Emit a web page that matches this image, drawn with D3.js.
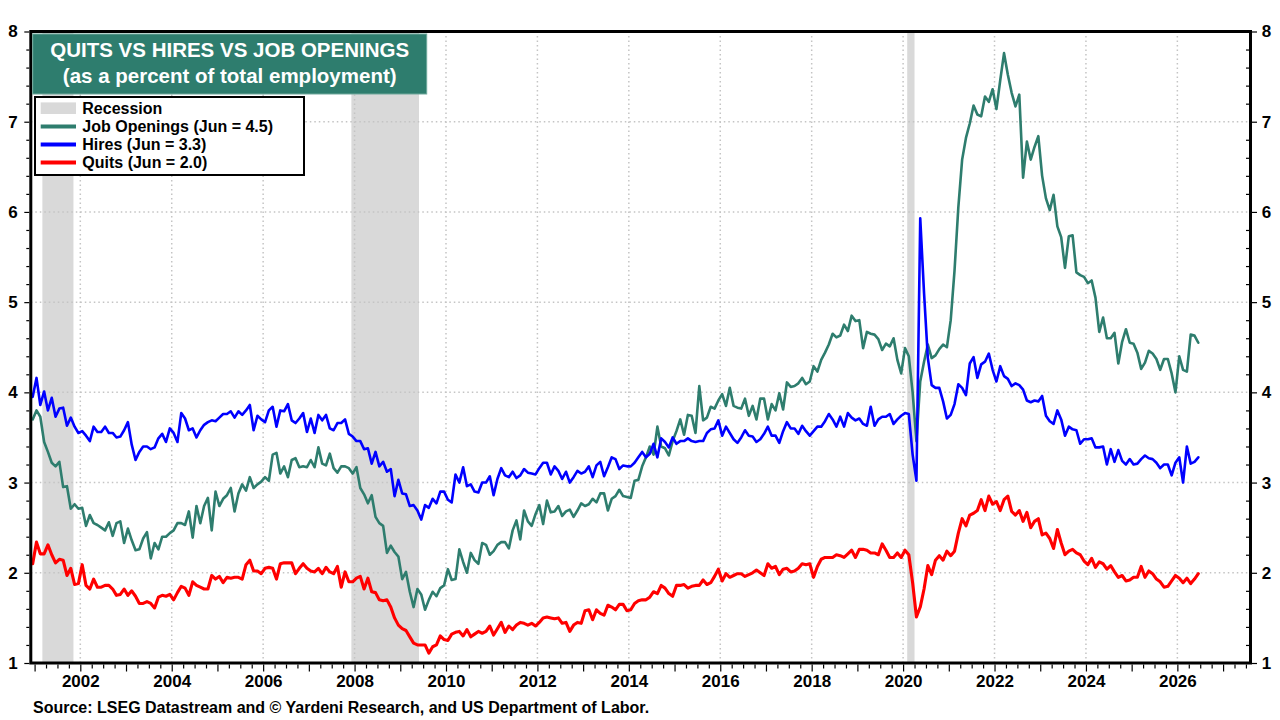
<!DOCTYPE html>
<html><head><meta charset="utf-8">
<script src="https://cdn.jsdelivr.net/npm/d3@7"></script>
<style>
html,body{margin:0;padding:0;background:#fff;}
svg{display:block;}
text{font-family:"Liberation Sans",Arial,Helvetica,sans-serif;font-weight:bold;}
</style>
</head><body>
<svg id="chart" width="1280" height="720"></svg>
<script>
// ---------- DATA (monthly, first point = Dec 2000, last = Jun 2026) ----------
const firstYear = 2000, firstMonth = 12;

const jobOpenings = [
3.70,3.80,3.73,3.45,3.34,3.22,3.18,3.23,2.95,2.96,2.71,2.76,2.71,2.72,2.52,2.64,2.55,2.53,2.50,2.47,2.56,2.41,2.55,2.57,2.33,2.49,2.36,2.25,2.26,2.38,2.45,2.16,2.33,2.26,2.40,2.40,2.44,2.47,2.55,2.55,2.53,2.68,2.39,2.74,2.55,2.74,2.83,2.47,2.90,2.74,2.82,2.86,2.94,2.68,2.88,2.98,2.91,3.06,2.94,2.98,3.01,3.06,3.02,3.31,3.33,3.10,3.18,3.06,3.25,3.27,3.17,3.18,3.17,3.25,3.17,3.39,3.21,3.19,3.32,3.16,3.11,3.18,3.18,
3.16,3.10,3.17,2.94,2.87,2.77,2.86,2.62,2.55,2.52,2.22,2.30,2.23,2.18,1.93,2.01,1.79,1.62,1.82,1.76,1.59,1.70,1.79,1.74,1.83,1.86,2.04,1.92,1.93,2.26,2.12,2.00,2.22,2.14,2.10,2.33,2.31,2.20,2.24,2.31,2.34,2.34,2.27,2.47,2.58,2.37,2.69,2.57,2.52,2.65,2.75,2.54,2.80,2.67,2.68,2.74,2.63,2.68,2.70,2.62,2.69,2.77,2.74,2.76,2.82,2.78,2.88,2.88,2.69,2.82,2.85,2.92,2.85,2.84,2.83,3.02,3.03,3.18,3.28,3.40,
3.31,3.62,3.40,3.38,3.30,3.46,3.57,3.70,3.53,3.75,3.74,3.55,4.07,3.69,3.72,3.84,3.82,3.91,3.98,3.85,4.05,3.85,3.83,3.82,3.93,3.74,3.85,3.70,3.93,3.93,3.70,3.87,3.80,3.99,3.81,4.11,4.06,4.07,4.10,4.16,4.09,4.12,4.29,4.23,4.36,4.44,4.53,4.65,4.61,4.63,4.75,4.68,4.85,4.79,4.80,4.49,4.67,4.65,4.64,4.59,4.47,4.54,4.51,4.60,4.36,4.21,4.49,4.40,
4.00,3.46,4.12,4.34,4.53,4.38,4.41,4.48,4.53,4.50,4.80,5.35,6.05,6.58,6.82,6.98,7.18,7.08,7.06,7.28,7.22,7.36,7.14,7.46,7.76,7.52,7.32,7.17,7.30,6.38,6.78,6.58,6.72,6.84,
6.40,6.15,6.02,6.19,5.84,5.72,5.38,5.73,5.74,5.33,5.30,5.28,5.21,5.24,5.05,4.67,4.83,4.60,4.60,4.66,4.32,4.56,4.70,4.55,4.54,4.44,4.26,4.33,4.46,4.43,4.37,4.25,4.37,4.37,4.21,4.00,4.40,4.25,4.23,4.64,4.63,4.55
];

const hires = [
3.95,4.16,3.86,4.01,3.80,3.94,3.73,3.82,3.83,3.63,3.72,3.62,3.55,3.57,3.52,3.46,3.62,3.56,3.56,3.62,3.55,3.55,3.50,3.51,3.58,3.67,3.42,3.25,3.34,3.40,3.40,3.37,3.39,3.49,3.54,3.45,3.60,3.55,3.45,3.77,3.71,3.58,3.60,3.50,3.58,3.64,3.67,3.69,3.68,3.72,3.76,3.76,3.79,3.72,3.79,3.75,3.80,3.86,3.58,3.74,3.70,3.67,3.80,3.84,3.62,3.80,3.79,3.87,3.69,3.66,3.71,3.77,3.56,3.71,3.55,3.75,3.69,3.75,3.60,3.58,3.66,3.66,3.70,
3.54,3.51,3.46,3.46,3.37,3.38,3.21,3.34,3.18,3.23,3.12,3.15,2.85,3.03,2.88,2.87,2.74,2.75,2.69,2.59,2.75,2.72,2.82,2.77,2.90,2.90,2.81,2.78,3.09,3.00,3.17,2.96,2.98,2.90,2.89,3.00,3.00,3.07,2.86,3.04,3.16,3.08,3.06,3.12,3.05,3.08,3.15,3.11,3.10,3.09,3.16,3.22,3.22,3.09,3.18,3.13,3.04,3.12,3.00,3.06,3.13,3.10,3.12,3.18,3.06,3.19,3.23,3.07,3.17,3.28,3.26,3.15,3.19,3.18,3.18,3.22,3.28,3.34,3.28,3.32,
3.43,3.28,3.49,3.45,3.39,3.50,3.43,3.46,3.46,3.49,3.46,3.45,3.46,3.46,3.55,3.59,3.60,3.69,3.52,3.62,3.55,3.48,3.44,3.50,3.58,3.52,3.51,3.45,3.48,3.54,3.62,3.52,3.52,3.44,3.57,3.67,3.60,3.60,3.54,3.63,3.57,3.52,3.57,3.62,3.62,3.68,3.76,3.70,3.62,3.73,3.62,3.77,3.72,3.69,3.71,3.65,3.63,3.84,3.63,3.70,3.73,3.73,3.76,3.65,3.70,3.74,3.77,3.76,
3.31,3.02,5.93,5.10,4.38,4.08,4.05,4.05,3.90,3.71,3.75,3.87,4.09,4.05,3.97,4.32,4.39,4.16,4.31,4.34,4.43,4.25,4.12,4.29,4.18,4.15,4.07,4.10,4.08,4.03,3.91,3.89,3.91,3.90,
3.96,3.74,3.68,3.65,3.80,3.70,3.52,3.62,3.59,3.58,3.43,3.48,3.48,3.49,3.39,3.39,3.40,3.20,3.37,3.23,3.36,3.24,3.20,3.26,3.20,3.21,3.26,3.30,3.27,3.26,3.22,3.16,3.20,3.20,3.08,3.22,3.28,3.00,3.40,3.21,3.23,3.28
];

const quits = [
2.10,2.34,2.21,2.21,2.31,2.20,2.11,2.15,2.14,1.97,2.05,1.87,1.88,2.09,1.86,1.82,1.93,1.84,1.84,1.86,1.86,1.82,1.75,1.76,1.82,1.75,1.80,1.74,1.66,1.66,1.68,1.66,1.61,1.73,1.75,1.74,1.76,1.70,1.78,1.85,1.83,1.75,1.90,1.86,1.84,1.82,1.82,1.97,1.93,1.96,1.89,1.95,1.94,1.95,1.95,1.93,2.09,2.14,2.02,2.02,1.99,2.05,2.06,2.05,1.93,2.10,2.11,2.11,2.11,1.99,2.05,2.10,2.05,2.02,2.01,2.05,1.99,2.06,2.01,1.99,2.07,1.84,2.01,
1.90,1.90,1.94,1.96,1.82,1.94,1.79,1.78,1.70,1.69,1.70,1.62,1.50,1.42,1.38,1.36,1.29,1.22,1.20,1.20,1.20,1.11,1.18,1.20,1.30,1.26,1.25,1.32,1.34,1.35,1.30,1.37,1.29,1.32,1.35,1.33,1.35,1.41,1.31,1.38,1.45,1.34,1.41,1.37,1.42,1.45,1.44,1.42,1.44,1.41,1.45,1.50,1.51,1.50,1.49,1.50,1.44,1.45,1.35,1.42,1.45,1.44,1.58,1.59,1.48,1.59,1.55,1.53,1.64,1.62,1.59,1.65,1.65,1.58,1.59,1.66,1.69,1.70,1.70,1.73,
1.79,1.77,1.86,1.83,1.77,1.74,1.86,1.86,1.87,1.83,1.85,1.86,1.86,1.92,1.87,1.89,1.96,2.04,1.91,1.99,1.95,1.97,1.99,1.99,1.96,1.98,2.00,2.03,2.00,1.97,2.10,2.05,2.07,1.98,2.04,2.05,2.01,2.02,2.05,2.10,2.09,2.10,1.95,2.07,2.15,2.17,2.17,2.17,2.20,2.19,2.17,2.21,2.25,2.17,2.26,2.26,2.25,2.22,2.22,2.20,2.32,2.25,2.17,2.17,2.22,2.17,2.25,2.20,
1.89,1.51,1.62,1.82,2.08,1.98,2.14,2.19,2.14,2.24,2.19,2.24,2.44,2.60,2.52,2.64,2.66,2.69,2.81,2.69,2.85,2.76,2.79,2.69,2.81,2.85,2.68,2.64,2.69,2.57,2.67,2.50,2.57,2.60,
2.42,2.44,2.38,2.27,2.48,2.33,2.20,2.24,2.26,2.22,2.20,2.13,2.09,2.16,2.06,2.12,2.10,2.04,2.08,2.01,1.95,1.97,1.91,1.92,1.95,1.95,2.07,1.95,2.02,1.99,1.93,1.90,1.84,1.85,1.91,1.97,1.94,1.89,1.94,1.88,1.93,1.99
];

// recession periods as [start, end] in decimal years
const recessions = [[2001.17, 2001.85], [2007.93, 2009.41], [2020.09, 2020.25]];
const yTickValues = [1, 2, 3, 4, 5, 6, 7, 8];
const xLabelYears = [2002, 2004, 2006, 2008, 2010, 2012, 2014, 2016, 2018, 2020, 2022, 2024, 2026];
const legendLabels = ["Recession", "Job Openings (Jun = 4.5)", "Hires (Jun = 3.3)", "Quits (Jun = 2.0)"];
const titleLines = ["QUITS VS HIRES VS JOB OPENINGS", "(as a percent of total employment)"];
const sourceText = "Source: LSEG Datastream and \u00A9 Yardeni Research, and US Department of Labor.";

// ---------- LAYOUT / STYLE ----------
const C = {teal: "#2e7d6e", blue: "#0000ff", red: "#ff0000", rec: "#d9d9d9", grid: "#c4c4c4"};
const L = 30.8, R = 1250.5, T = 31.5, B = 663;

const svg = d3.select("#chart");
const x = d3.scaleLinear().domain([2000.917, 2027.6]).range([L, R]);
const y = d3.scaleLinear().domain([1, 8]).range([B, T]);

const tOf = i => firstYear + (firstMonth - 0.5 + i) / 12;

// recession bands
svg.append("g").selectAll("rect").data(recessions).join("rect")
  .attr("x", d => x(d[0])).attr("width", d => x(d[1]) - x(d[0]))
  .attr("y", T).attr("height", B - T).attr("fill", C.rec);

// gridlines
const grid = svg.append("g").attr("stroke", C.grid).attr("stroke-width", 1.5).attr("stroke-dasharray", "1.5,3");
grid.selectAll("line.h").data(yTickValues.filter(v => v > 1 && v < 8)).join("line").attr("class", "h")
  .attr("x1", L).attr("x2", R).attr("y1", d => y(d)).attr("y2", d => y(d));
grid.selectAll("line.v").data(xLabelYears).join("line").attr("class", "v")
  .attr("x1", d => x(d)).attr("x2", d => x(d)).attr("y1", T).attr("y2", B);

// series lines
const series = [
  {values: jobOpenings, color: C.teal, w: 2.6},
  {values: hires, color: C.blue, w: 2.6},
  {values: quits, color: C.red, w: 3.1}
];
const line = d3.line().x((d, i) => x(tOf(i))).y(d => y(d));
svg.append("g").selectAll("path").data(series).join("path")
  .attr("d", d => line(d.values)).attr("fill", "none")
  .attr("stroke", d => d.color).attr("stroke-width", d => d.w)
  .attr("stroke-linejoin", "round").attr("stroke-linecap", "round");

// axes
const styleAxis = g => { g.select(".domain").remove(); g.selectAll("line").attr("stroke", "#000").attr("stroke-width", 1.2); };
const minorY = d3.range(1, 8.001, 0.2).filter(v => Math.abs(v - Math.round(v)) > 0.01);
const years = d3.range(2001, 2028);
const quarters = d3.range(2001, 2027.6, 0.25).filter(v => Math.abs(v - Math.round(v)) > 0.01);

svg.append("g").attr("transform", `translate(${L - 1.5},0)`)
  .call(d3.axisLeft(y).tickValues(minorY).tickSize(3).tickFormat("")).call(styleAxis);
const yl = svg.append("g").attr("transform", `translate(${L - 1.5},0)`)
  .call(d3.axisLeft(y).tickValues(yTickValues).tickSize(5).tickFormat(d3.format("d"))).call(styleAxis);
yl.selectAll("text").attr("x", -16.3).attr("text-anchor", "middle")
  .attr("font-size", 17).attr("fill", "#000").style("font-family", "'Liberation Sans',Arial,sans-serif").style("font-weight", "bold");

svg.append("g").attr("transform", `translate(${R - 1.5},0)`)
  .call(d3.axisRight(y).tickValues(minorY).tickSize(-3).tickFormat("")).call(styleAxis);
const yr = svg.append("g").attr("transform", `translate(${R + 1.5},0)`)
  .call(d3.axisRight(y).tickValues(yTickValues).tickSize(5).tickFormat(d3.format("d"))).call(styleAxis);
yr.selectAll("text").attr("x", 14.5).attr("text-anchor", "middle")
  .attr("font-size", 17).attr("fill", "#000").style("font-family", "'Liberation Sans',Arial,sans-serif").style("font-weight", "bold");

svg.append("g").attr("transform", `translate(0,${B + 1.5})`)
  .call(d3.axisBottom(x).tickValues(quarters).tickSize(4).tickFormat("")).call(styleAxis);
const xb = svg.append("g").attr("transform", `translate(0,${B + 1.5})`)
  .call(d3.axisBottom(x).tickValues(years).tickSize(7).tickFormat(d => xLabelYears.includes(d) ? String(d) : "")).call(styleAxis);
xb.selectAll("text").attr("font-size", 17).attr("fill", "#000")
  .style("font-family", "'Liberation Sans',Arial,sans-serif").style("font-weight", "bold");

// frame
svg.append("rect").attr("x", L).attr("y", T).attr("width", R - L).attr("height", B - T)
  .attr("fill", "none").attr("stroke", "#000").attr("stroke-width", 3);

// title box
const tb = svg.append("g");
tb.append("rect").attr("x", 32.7).attr("y", 34).attr("width", 394).attr("height", 60)
  .attr("fill", C.teal).attr("stroke", "#6fa89b").attr("stroke-width", 1);
tb.selectAll("text").data(titleLines).join("text")
  .attr("x", 229.7).attr("y", (d, i) => 56.5 + i * 26).attr("text-anchor", "middle")
  .attr("font-size", 20.5).attr("fill", "#fff").text(d => d);

// legend
const lg = svg.append("g");
lg.append("rect").attr("x", 35).attr("y", 97).attr("width", 269).attr("height", 78)
  .attr("fill", "#fff").attr("stroke", "#000").attr("stroke-width", 2);
const rowY = [108, 126.6, 144.4, 162.4];
lg.append("rect").attr("x", 40.7).attr("y", rowY[0] - 5.6).attr("width", 35.3).attr("height", 11.6).attr("fill", C.rec);
lg.selectAll("line").data(series).join("line")
  .attr("x1", 40.7).attr("x2", 76).attr("y1", (d, i) => rowY[i + 1]).attr("y2", (d, i) => rowY[i + 1])
  .attr("stroke", d => d.color).attr("stroke-width", 4);
lg.selectAll("text").data(legendLabels).join("text")
  .attr("x", 82.3).attr("y", (d, i) => rowY[i] + 5.6).attr("font-size", 16).attr("fill", "#000").text(d => d);

// source
svg.append("text").attr("x", 33).attr("y", 713).attr("font-size", 16).attr("fill", "#000").text(sourceText);
</script>
</body></html>
